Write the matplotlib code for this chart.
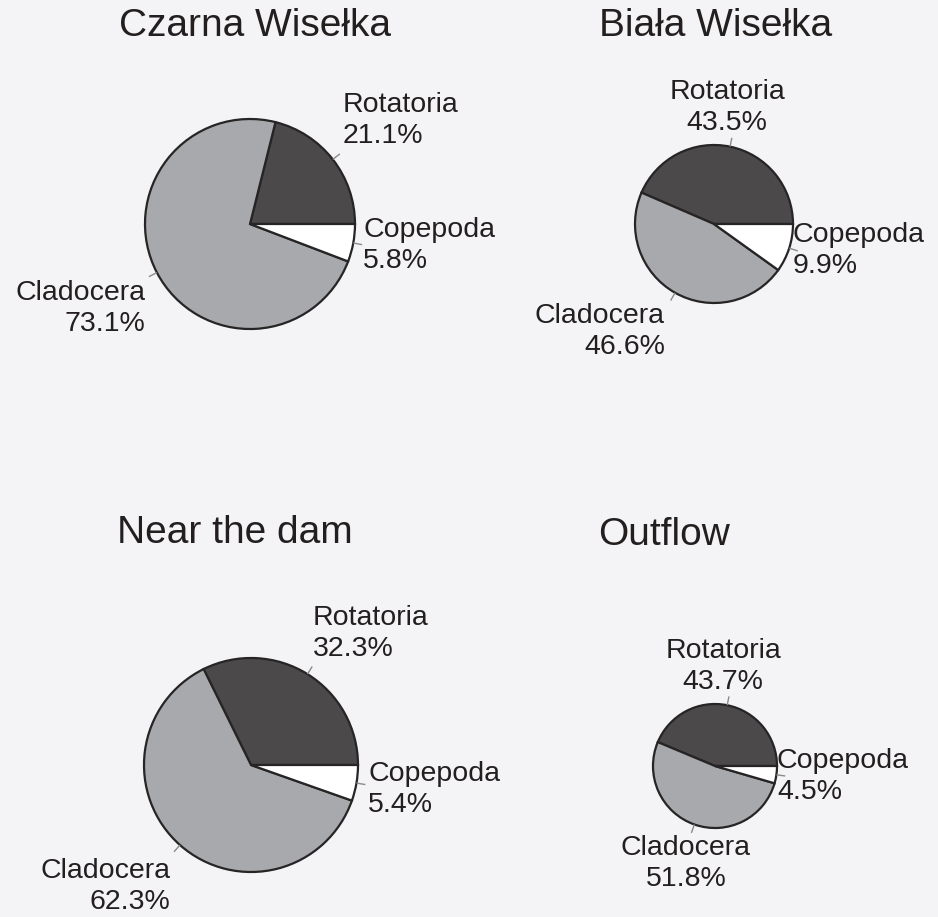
import numpy as np
import matplotlib
matplotlib.use("Agg")
import matplotlib.pyplot as plt

# Zooplankton composition (% of abundance) at four sampling sites
sites = ["Czarna Wisełka", "Biała Wisełka", "Near the dam", "Outflow"]
groups = ["Rotatoria", "Cladocera", "Copepoda"]
rotatoria = [21.1, 43.5, 32.3, 43.7]
cladocera = [73.1, 46.6, 62.3, 51.8]
copepoda = [5.8, 9.9, 5.4, 4.5]

colors = ["#4b4949", "#a8a9ac", "#ffffff"]
edge = "#262424"
bg = "#f4f4f7"
text_color = "#231f1f"

W, H = 938, 917
LINE_STEP = 31  # px between label lines
# Layout of each panel in pixel units (y grows downward):
# pie centre, radius, title anchor, and label anchors (x, first-baseline y, ha)
layout = [
    dict(c=(250, 224), r=105, title=(255, 36),
         labels=[(343, 112, "left"), (145, 300, "right"), (363, 237, "left")]),
    dict(c=(714, 224), r=79, title=(716, 36),
         labels=[(727, 99, "center"), (665, 323, "right"), (793, 242, "left")]),
    dict(c=(251, 765), r=107, title=(235, 543),
         labels=[(313, 625, "left"), (170, 878, "right"), (368, 781, "left")]),
    dict(c=(715, 766), r=62, title=(664, 545),
         labels=[(723, 658, "center"), (686, 855, "center"), (777, 768, "left")]),
]

plt.rcParams["font.family"] = ["Liberation Sans", "DejaVu Sans"]

fig = plt.figure(figsize=(W / 100, H / 100), dpi=100, facecolor=bg)
ax = fig.add_axes([0, 0, 1, 1])
ax.set_facecolor(bg)

for i, site in enumerate(sites):
    vals = [rotatoria[i], cladocera[i], copepoda[i]]
    lay = layout[i]
    cx, cy = lay["c"]
    r = lay["r"]
    # y axis is inverted, so clockwise in data = counter-clockwise on screen
    ax.pie(vals, colors=colors, startangle=0, counterclock=False,
           radius=r, center=(cx, cy), frame=True,
           wedgeprops=dict(edgecolor=edge, linewidth=1.6))

    # short leader ticks at each wedge's mid-angle
    fr = np.array(vals) / np.sum(vals)
    start = np.concatenate([[0], np.cumsum(fr)[:-1]])
    mids = (start + fr / 2) * 2 * np.pi
    for a in mids:
        x0, y0 = cx + r * np.cos(a), cy - r * np.sin(a)
        x1, y1 = cx + (r + 9) * np.cos(a), cy - (r + 9) * np.sin(a)
        ax.plot([x0, x1], [y0, y1], color="#8a8a8a", lw=1.0,
                solid_capstyle="butt")

    for g, v, (tx, ty, ha) in zip(groups, vals, lay["labels"]):
        ax.text(tx, ty, g, ha=ha, va="baseline", fontsize=20.5,
                color=text_color)
        ax.text(tx, ty + LINE_STEP, f"{v:.1f}%", ha=ha, va="baseline",
                fontsize=20.5, color=text_color)

    tx, ty = lay["title"]
    ax.text(tx, ty, site, ha="center", va="baseline", fontsize=28,
            color=text_color)

ax.set_xlim(0, W)
ax.set_ylim(H, 0)
ax.set_aspect("equal")
ax.axis("off")

fig.savefig("out.png", dpi=100, facecolor=bg)
